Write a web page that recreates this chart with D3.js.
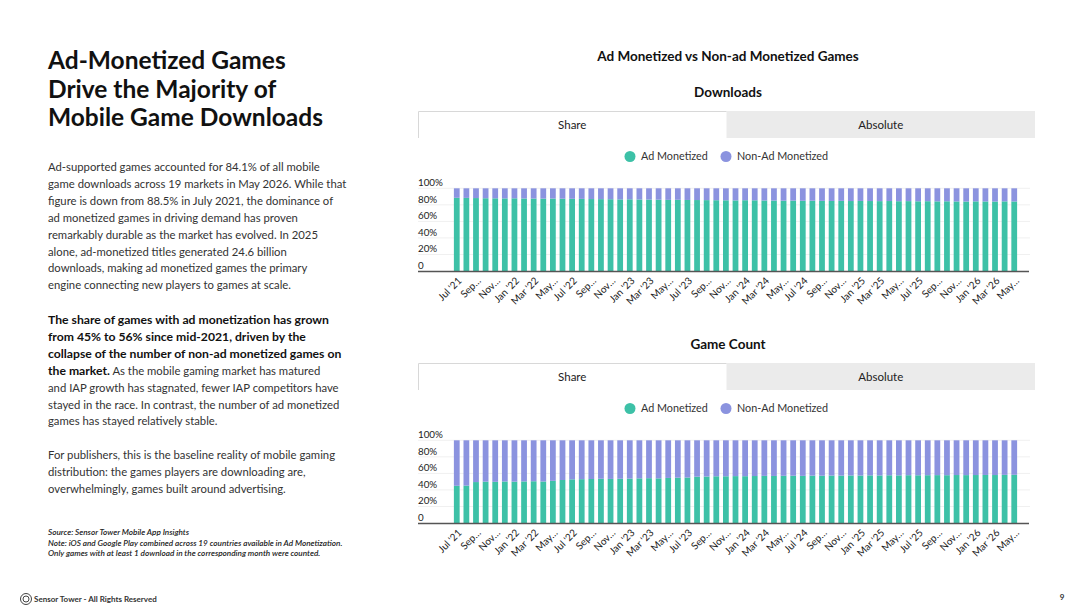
<!DOCTYPE html>
<html>
<head>
<meta charset="utf-8">
<script src="https://cdn.jsdelivr.net/npm/d3@7"></script>
<style>
  body { margin: 0; background: #fff; }
  svg { display: block; font-family: Lato, "Noto Sans", sans-serif; }
</style>
</head>
<body>
<svg id="page" width="1080" height="608"></svg>
<script>
// Months Jul '21 .. May '26
var months = [
  "2021-07", "2021-08", "2021-09", "2021-10", "2021-11", "2021-12",
  "2022-01", "2022-02", "2022-03", "2022-04", "2022-05", "2022-06", "2022-07", "2022-08", "2022-09", "2022-10", "2022-11", "2022-12",
  "2023-01", "2023-02", "2023-03", "2023-04", "2023-05", "2023-06", "2023-07", "2023-08", "2023-09", "2023-10", "2023-11", "2023-12",
  "2024-01", "2024-02", "2024-03", "2024-04", "2024-05", "2024-06", "2024-07", "2024-08", "2024-09", "2024-10", "2024-11", "2024-12",
  "2025-01", "2025-02", "2025-03", "2025-04", "2025-05", "2025-06", "2025-07", "2025-08", "2025-09", "2025-10", "2025-11", "2025-12",
  "2026-01", "2026-02", "2026-03", "2026-04", "2026-05"
];

// Every other month is labelled
var tickLabels = [
  "Jul '21", "Sep…", "Nov…", "Jan '22", "Mar '22", "May…", "Jul '22", "Sep…", "Nov…", "Jan '23",
  "Mar '23", "May…", "Jul '23", "Sep…", "Nov…", "Jan '24", "Mar '24", "May…", "Jul '24", "Sep…",
  "Nov…", "Jan '25", "Mar '25", "May…", "Jul '25", "Sep…", "Nov…", "Jan '26", "Mar '26", "May…"
];

// Ad monetized share of downloads
var downloadsAdShare = [
  0.885, 0.884, 0.882, 0.880, 0.879, 0.878,
  0.879, 0.877, 0.876, 0.875, 0.876, 0.874, 0.873, 0.872, 0.870, 0.869, 0.868, 0.866,
  0.867, 0.865, 0.864, 0.862, 0.860, 0.861, 0.859, 0.858, 0.857, 0.856, 0.855, 0.854,
  0.856, 0.855, 0.853, 0.852, 0.850, 0.851, 0.849, 0.850, 0.848, 0.847, 0.848, 0.846,
  0.847, 0.846, 0.845, 0.846, 0.844, 0.845, 0.843, 0.844, 0.842, 0.843, 0.841, 0.840,
  0.842, 0.841, 0.840, 0.842, 0.841
];

// Ad monetized share of game count
var gameCountAdShare = [
  0.450, 0.452, 0.495, 0.500, 0.498, 0.502,
  0.500, 0.503, 0.505, 0.502, 0.510, 0.520, 0.528, 0.530, 0.532, 0.535, 0.533, 0.535,
  0.537, 0.540, 0.542, 0.540, 0.545, 0.548, 0.550, 0.560, 0.562, 0.565, 0.565, 0.567,
  0.566, 0.568, 0.570, 0.569, 0.571, 0.572, 0.570, 0.573, 0.572, 0.574, 0.573, 0.575,
  0.574, 0.576, 0.575, 0.577, 0.576, 0.578, 0.577, 0.578, 0.579, 0.578, 0.580, 0.579,
  0.580, 0.581, 0.580, 0.582, 0.583
];

var seriesNames = ["Ad Monetized", "Non-Ad Monetized"];
var yTicks = [0, 0.2, 0.4, 0.6, 0.8, 1];
var yTickLabels = ["0", "20%", "40%", "60%", "80%", "100%"];
var tabNames = ["Share", "Absolute"];

var color = d3.scaleOrdinal()
  .domain(seriesNames)
  .range(["#3dc1a7", "#8b93df"]);

var svg = d3.select("#page");

// ---------- Left column text ----------
var headline = ["Ad-Monetized Games", "Drive the Majority of", "Mobile Game Downloads"];

svg.append("g").selectAll("text")
  .data(headline)
  .enter().append("text")
  .attr("x", 48)
  .attr("y", (d, i) => 69 + i * 28.5)
  .style("font-size", "24.5px")
  .style("font-weight", 700)
  .style("fill", "#111")
  .text(d => d);

var para1 = [
  "Ad-supported games accounted for 84.1% of all mobile",
  "game downloads across 19 markets in May 2026. While that",
  "figure is down from  88.5% in July 2021, the dominance of",
  "ad monetized games in driving demand has proven",
  "remarkably durable as the market has evolved. In 2025",
  "alone, ad-monetized titles generated 24.6 billion",
  "downloads, making ad monetized games the primary",
  "engine connecting new players to games at scale."
];

var para2 = [
  [["The share of games with ad monetization has grown", true]],
  [["from 45% to 56% since mid-2021, driven by the", true]],
  [["collapse of the number of non-ad monetized games on", true]],
  [["the market.", true], [" As the mobile gaming market has matured", false]],
  [["and IAP growth has stagnated, fewer IAP competitors have", false]],
  [["stayed in the race. In contrast, the number of ad monetized", false]],
  [["games has stayed relatively stable.", false]]
];

var para3 = [
  "For publishers, this is the baseline reality of mobile gaming",
  "distribution: the games players are downloading are,",
  "overwhelmingly, games built around advertising."
];

var bodyStyle = (sel) => sel
  .style("font-size", "11.3px")
  .style("fill", "#333");

svg.append("g").selectAll("text")
  .data(para1)
  .enter().append("text")
  .attr("x", 48)
  .attr("y", (d, i) => 171 + i * 16.9)
  .call(bodyStyle)
  .text(d => d);

var p2 = svg.append("g").selectAll("text")
  .data(para2)
  .enter().append("text")
  .attr("x", 48)
  .attr("y", (d, i) => 324 + i * 16.9)
  .call(bodyStyle);

p2.selectAll("tspan")
  .data(d => d)
  .enter().append("tspan")
  .style("font-weight", d => d[1] ? 700 : 400)
  .style("font-size", d => d[1] ? "12.2px" : "11.3px")
  .style("fill", d => d[1] ? "#111" : "#333")
  .text(d => d[0]);

svg.append("g").selectAll("text")
  .data(para3)
  .enter().append("text")
  .attr("x", 48)
  .attr("y", (d, i) => 459 + i * 16.9)
  .call(bodyStyle)
  .text(d => d);

var notes = [
  "Source: Sensor Tower Mobile App Insights",
  "Note: iOS and Google Play combined across 19 countries available in Ad Monetization.",
  "Only games with at least 1 download in the corresponding month were counted."
];

svg.append("g").selectAll("text")
  .data(notes)
  .enter().append("text")
  .attr("x", 48)
  .attr("y", (d, i) => 535 + i * 10.5)
  .style("font-size", "8.2px")
  .style("font-style", "italic")
  .style("font-weight", 600)
  .style("fill", "#222")
  .text(d => d);

// footer
var footer = svg.append("g").attr("transform", "translate(26, 599)");
footer.append("circle").attr("r", 5.5).attr("fill", "none").attr("stroke", "#444").attr("stroke-width", 1);
footer.append("circle").attr("r", 3).attr("fill", "none").attr("stroke", "#444").attr("stroke-width", 1);
footer.append("text")
  .attr("x", 8)
  .attr("dy", "0.35em")
  .style("font-size", "8px")
  .style("font-weight", 700)
  .style("fill", "#333")
  .text("Sensor Tower - All Rights Reserved");

svg.append("text")
  .attr("x", 1062)
  .attr("y", 600)
  .attr("text-anchor", "middle")
  .style("font-size", "8px")
  .style("font-weight", 700)
  .style("fill", "#333")
  .text("9");

// ---------- Right column charts ----------
svg.append("text")
  .attr("x", 728)
  .attr("y", 56)
  .attr("dy", "0.35em")
  .attr("text-anchor", "middle")
  .style("font-size", "13.5px")
  .style("font-weight", 700)
  .style("fill", "#111")
  .text("Ad Monetized vs Non-ad Monetized Games");

var xScale = d3.scaleBand()
  .domain(months)
  .range([451, 1020])
  .paddingInner(0.4)
  .paddingOuter(0.3);

function drawPanel(offset, title, shares) {
  var g = svg.append("g").attr("transform", `translate(0, ${offset})`);

  var yScale = d3.scaleLinear()
    .domain([0, 1])
    .range([271, 188.3]);

  // title
  g.append("text")
    .attr("x", 728)
    .attr("y", 92)
    .attr("dy", "0.35em")
    .attr("text-anchor", "middle")
    .style("font-size", "13.5px")
    .style("font-weight", 700)
    .style("fill", "#111")
    .text(title);

  // tabs
  var tabX = d3.scaleBand().domain(tabNames).range([418, 1035]);
  var tabs = g.selectAll(".tab")
    .data(tabNames)
    .enter().append("g")
    .attr("class", "tab");

  tabs.append("rect")
    .attr("x", d => tabX(d))
    .attr("y", 111)
    .attr("width", tabX.bandwidth())
    .attr("height", 27)
    .attr("fill", (d, i) => i == 0 ? "#fff" : "#ebebeb");

  tabs.append("text")
    .attr("x", d => tabX(d) + tabX.bandwidth() / 2)
    .attr("y", 124.5)
    .attr("dy", "0.35em")
    .attr("text-anchor", "middle")
    .style("font-size", "11.5px")
    .style("fill", "#222")
    .text(d => d);

  g.append("path")
    .attr("d", `M418.5,138V111.5H${tabX("Absolute")}`)
    .attr("fill", "none")
    .attr("stroke", "#d8d8d8")
    .attr("stroke-width", 1);

  // legend
  var legend = g.selectAll(".legend")
    .data(seriesNames)
    .enter().append("g")
    .attr("class", "legend")
    .attr("transform", (d, i) => `translate(${i == 0 ? 630 : 726}, 156.5)`);

  legend.append("circle")
    .attr("r", 5.5)
    .attr("fill", color);

  legend.append("text")
    .attr("x", 11)
    .attr("dy", "0.35em")
    .style("font-size", "10.8px")
    .style("fill", "#333")
    .text(d => d);

  // gridlines
  g.append("g").selectAll("line")
    .data(yTicks.slice(1))
    .enter().append("line")
    .attr("x1", 418)
    .attr("x2", 1030)
    .attr("y1", d => yScale(d))
    .attr("y2", d => yScale(d))
    .attr("stroke", "#f0f0f0");

  // y labels
  g.append("g").selectAll("text")
    .data(yTicks)
    .enter().append("text")
    .attr("x", 418)
    .attr("y", d => yScale(d) - 2)
    .style("font-size", "9.8px")
    .style("fill", "#222")
    .text((d, i) => yTickLabels[i]);

  // stacked bars
  var rows = months.map((m, i) => ({ month: m, "Ad Monetized": shares[i], "Non-Ad Monetized": 1 - shares[i] }));
  var stacked = d3.stack().keys(seriesNames)(rows);

  g.append("g").selectAll("g")
    .data(stacked)
    .enter().append("g")
    .attr("fill", d => color(d.key))
    .selectAll("rect")
    .data(d => d)
    .enter().append("rect")
    .attr("x", d => xScale(d.data.month))
    .attr("width", xScale.bandwidth())
    .attr("y", d => yScale(d[1]))
    .attr("height", d => yScale(d[0]) - yScale(d[1]));

  // baseline
  g.append("line")
    .attr("x1", 418)
    .attr("x2", 1029)
    .attr("y1", 271.5)
    .attr("y2", 271.5)
    .attr("stroke", "#555")
    .attr("stroke-width", 1.5);

  // x labels
  g.append("g").selectAll("text")
    .data(tickLabels)
    .enter().append("text")
    .attr("transform", (d, i) => {
      var cx = xScale(months[i * 2]) + xScale.bandwidth() / 2 + 3;
      return `translate(${cx}, 279) rotate(-45)`;
    })
    .attr("text-anchor", "end")
    .attr("dy", "0.35em")
    .style("font-size", "10px")
    .style("fill", "#222")
    .text(d => d);
}

drawPanel(0, "Downloads", downloadsAdShare);
drawPanel(252, "Game Count", gameCountAdShare);
</script>
</body>
</html>
